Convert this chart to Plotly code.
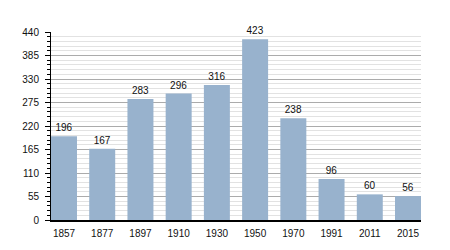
import plotly.graph_objects as go

years = ["1857", "1877", "1897", "1910", "1930", "1950", "1970", "1991", "2011", "2015"]
population = [196, 167, 283, 296, 316, 423, 238, 96, 60, 56]
y_ticks = [0, 55, 110, 165, 220, 275, 330, 385, 440]

x_pos = list(range(len(years)))

fig = go.Figure(go.Bar(
    x=x_pos, y=population,
    marker=dict(color="#98b2cd", line=dict(width=0)),
    width=0.68,
    text=[str(v) for v in population],
    textposition="outside",
    textfont=dict(family="Liberation Sans, Arial", size=10, color="#111"),
    cliponaxis=False,
))

fig.update_layout(
    width=450, height=250,
    margin=dict(l=51, r=29, t=32, b=30),
    paper_bgcolor="white", plot_bgcolor="white",
    showlegend=False,
    font=dict(family="Liberation Sans, Arial", size=10, color="#111"),
    bargap=0.32,
)
fig.update_xaxes(
    tickmode="array", tickvals=x_pos, ticktext=years,
    range=[-0.34, 9.34],
    showgrid=False, showline=True, linecolor="black", linewidth=1.5,
    ticks="", zeroline=False, ticklabelstandoff=3,
)
fig.update_yaxes(
    range=[0, 440], tickmode="array", tickvals=y_ticks,
    showgrid=True, gridcolor="#ababab", gridwidth=1,
    showline=True, linecolor="black", linewidth=1,
    ticks="outside", ticklen=5, tickcolor="black",
    zeroline=False, ticklabelstandoff=4,
    minor=dict(dtick=11, tick0=0, showgrid=True, gridcolor="#e2e2e2",
               ticks="outside", ticklen=3, tickcolor="black"),
)

fig.write_html("out.html")
